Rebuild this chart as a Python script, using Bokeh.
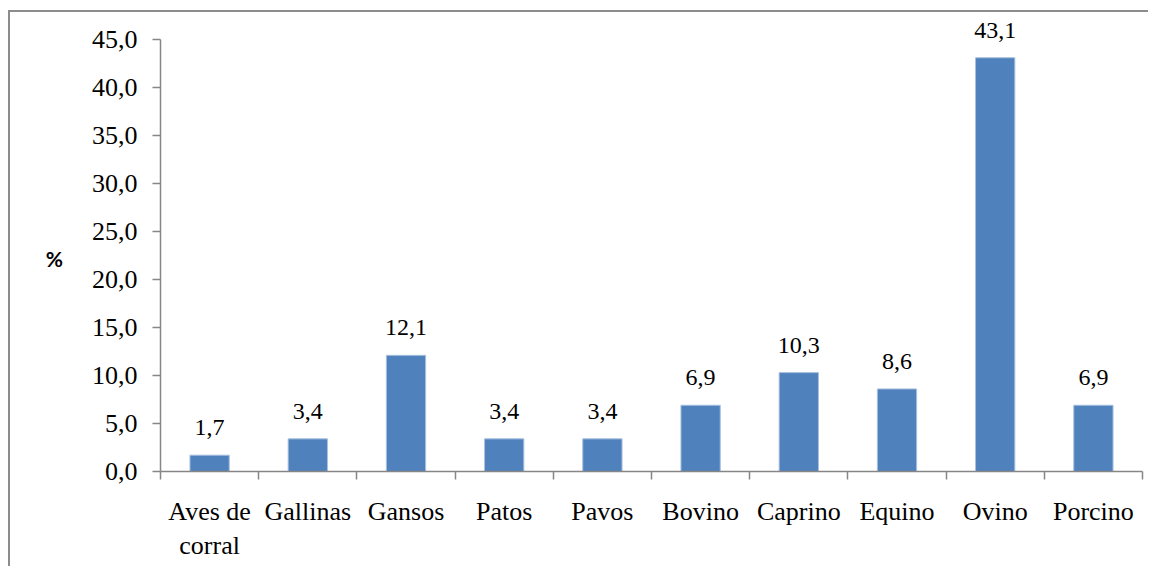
from bokeh.plotting import figure
from bokeh.models import FixedTicker, Range1d, ColumnDataSource, LabelSet
from bokeh.embed import file_html
from bokeh.resources import INLINE

categories = ["Aves de\ncorral", "Gallinas", "Gansos", "Patos", "Pavos",
              "Bovino", "Caprino", "Equino", "Ovino", "Porcino"]
values = [1.7, 3.4, 12.1, 3.4, 3.4, 6.9, 10.3, 8.6, 43.1, 6.9]
y_ticks = [0, 5, 10, 15, 20, 25, 30, 35, 40, 45]
y_label = "%"

n = len(categories)
xs = [2 * i + 1 for i in range(n)]
texts = [f"{v:.1f}".replace(".", ",") for v in values]
src = ColumnDataSource(dict(x=xs, top=values, text=texts))

AXIS = "#868686"

p = figure(width=1140, height=556, x_range=Range1d(0, 2 * n), y_range=Range1d(0, 47.5),
           output_backend="svg", toolbar_location=None,
           min_border_left=150, min_border_top=3, min_border_right=8, min_border_bottom=97)
p.styles = {"border-left": "2px solid #8C8C8C", "border-top": "2px solid #8C8C8C",
            "margin-top": "10px", "margin-left": "8px"}
p.outline_line_color = None
p.xgrid.visible = False
p.ygrid.visible = False
p.background_fill_color = "white"
p.border_fill_color = "white"

p.vbar(x="x", top="top", width=0.8, bottom=0, source=src,
       fill_color="#4F81BD", line_color="#A7C0DE", line_width=1)

labels = LabelSet(x="x", y="top", text="text", source=src, y_offset=20,
                  text_align="center", text_baseline="alphabetic",
                  text_font="Lato", text_font_size="24px", text_color="#000000")
p.add_layout(labels)

# x axis
xa = p.xaxis[0]
xa.ticker = FixedTicker(ticks=xs, minor_ticks=list(range(0, 2 * n + 1, 2)))
xa.major_label_overrides = {x: c for x, c in zip(xs, categories)}
xa.major_tick_line_color = None
xa.major_tick_out = 8
xa.major_tick_in = 0
xa.minor_tick_out = 8
xa.minor_tick_in = 0
xa.minor_tick_line_color = AXIS
xa.minor_tick_line_width = 1.5
xa.axis_line_color = AXIS
xa.axis_line_width = 1.5
xa.major_label_text_font = "Liberation Serif"
xa.major_label_text_font_size = "26px"
xa.major_label_text_color = "#000000"
xa.major_label_standoff = 17

# y axis
ya = p.yaxis[0]
ya.ticker = FixedTicker(ticks=y_ticks)
ya.bounds = (0, 45)
ya.major_label_overrides = {t: f"{t:.1f}".replace(".", ",") for t in y_ticks}
ya.major_tick_out = 8
ya.major_tick_in = 0
ya.minor_tick_line_color = None
ya.major_tick_line_color = AXIS
ya.major_tick_line_width = 1.5
ya.axis_line_color = AXIS
ya.axis_line_width = 1.5
ya.major_label_text_font = "Liberation Serif"
ya.major_label_text_font_size = "26px"
ya.major_label_text_color = "#000000"
ya.major_label_standoff = 15
ya.axis_label = "\n" + y_label
ya.axis_label_orientation = "horizontal"
ya.axis_label_text_font = "Lato"
ya.axis_label_text_font_style = "bold"
ya.axis_label_text_font_size = "21px"
ya.axis_label_text_color = "#000000"
ya.axis_label_standoff = 26

open("out.html", "w").write(file_html(p, INLINE))
